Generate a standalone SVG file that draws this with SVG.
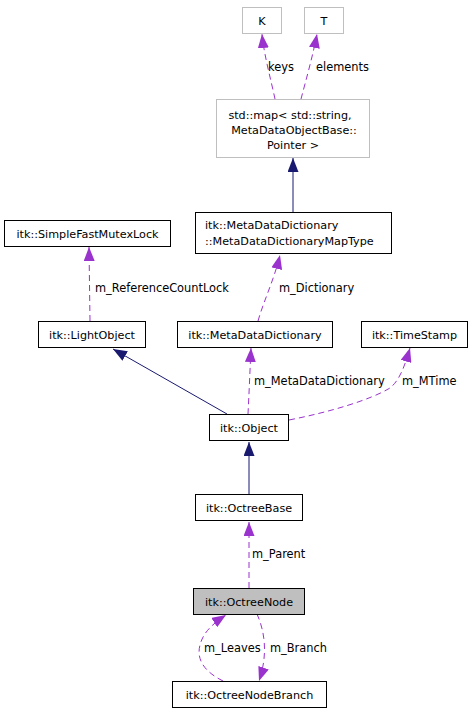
<svg xmlns="http://www.w3.org/2000/svg" width="473" height="715" viewBox="0 0 473 715">
<style>
text{font-family:"DejaVu Sans",sans-serif;font-size:11.2px;fill:#000}
.lbl{font-size:11.4px}
.c{text-anchor:middle}
.box{fill:#fff;stroke:#000;stroke-width:1}
.gbox{fill:#fff;stroke:#bfbfbf;stroke-width:1}
.cur{fill:#bfbfbf;stroke:#000;stroke-width:1}
.ref{fill:none;stroke:#9a32cd;stroke-width:1;stroke-dasharray:6,4;marker-end:url(#pa)}
.inh{fill:none;stroke:#191970;stroke-width:1;marker-end:url(#ba)}
</style>
<defs>
<marker id="pa" markerUnits="userSpaceOnUse" viewBox="0 0 14 11" refX="14" refY="5.5" markerWidth="14" markerHeight="11" orient="auto"><path d="M0,0 L14,5.5 L0,11 z" fill="#9a32cd"/></marker>
<marker id="ba" markerUnits="userSpaceOnUse" viewBox="0 0 14 11" refX="14" refY="5.5" markerWidth="14" markerHeight="11" orient="auto"><path d="M0,0 L14,5.5 L0,11 z" fill="#191970"/></marker>
</defs>
<g id="edges">
<path class="ref" d="M275,99 C271,80 264,55 262,34"/>
<text class="lbl" x="268" y="71">keys</text>
<path class="ref" d="M301,99 C306,80 313,55 317,34"/>
<text class="lbl" x="316" y="71">elements</text>
<path class="inh" d="M293,212 L293,158"/>
<path class="ref" d="M90,321 L89,247"/>
<text class="lbl" x="95" y="292">m_ReferenceCountLock</text>
<path class="ref" d="M258,321 C264,300 274,280 280,255"/>
<text class="lbl" x="279" y="292">m_Dictionary</text>
<path class="inh" d="M227,414 L113,349"/>
<path class="ref" d="M248,414 C249,395 250,370 251,348"/>
<text class="lbl" x="254" y="385">m_MetaDataDictionary</text>
<path class="ref" d="M289,420 C330,412 370,400 390,388 C400,380 405,365 410,348"/>
<text class="lbl" x="402" y="385">m_MTime</text>
<path class="inh" d="M249,494 L249,442"/>
<path class="ref" d="M249,588 L249,522"/>
<text class="lbl" x="252" y="558">m_Parent</text>
<path class="ref" d="M257,614 C265,632 268,655 259,681"/>
<text class="lbl" x="270" y="652">m_Branch</text>
<path class="ref" d="M223,681 C205,672 196,660 200,645 C203,633 212,624 226,615"/>
<text class="lbl" x="204" y="652">m_Leaves</text>
</g>
<g id="K"><rect class="gbox" x="242.5" y="7.5" width="39" height="26"/><text class="c" x="262" y="25">K</text></g>
<g id="T"><rect class="gbox" x="304.5" y="7.5" width="39" height="26"/><text class="c" x="324" y="25">T</text></g>
<g id="stdmap"><rect class="gbox" x="216.5" y="99.5" width="153" height="58"/>
<text class="c" x="290" y="119">std::map&lt; std::string,</text>
<text class="c" x="294" y="134">MetaDataObjectBase::</text>
<text class="c" x="293" y="149">Pointer &gt;</text></g>
<g id="MapType"><rect class="box" x="195.5" y="212.5" width="196" height="41"/>
<text x="205" y="229">itk::MetaDataDictionary</text>
<text x="205" y="245">::MetaDataDictionaryMapType</text></g>
<g id="SimpleFastMutexLock"><rect class="box" x="4.5" y="220.5" width="166" height="26"/><text class="c" x="87.5" y="238">itk::SimpleFastMutexLock</text></g>
<g id="LightObject"><rect class="box" x="38.5" y="321.5" width="107" height="26"/><text class="c" x="92" y="339">itk::LightObject</text></g>
<g id="MetaDataDictionary"><rect class="box" x="177.5" y="321.5" width="155" height="26"/><text class="c" x="255" y="339">itk::MetaDataDictionary</text></g>
<g id="TimeStamp"><rect class="box" x="361.5" y="321.5" width="106" height="26"/><text class="c" x="414.5" y="339">itk::TimeStamp</text></g>
<g id="Object"><rect class="box" x="209.5" y="414.5" width="79" height="26"/><text class="c" x="249" y="432">itk::Object</text></g>
<g id="OctreeBase"><rect class="box" x="195.5" y="494.5" width="107" height="26"/><text class="c" x="249" y="512">itk::OctreeBase</text></g>
<g id="OctreeNode"><rect class="cur" x="193.5" y="588.5" width="111" height="26"/><text class="c" x="249" y="606">itk::OctreeNode</text></g>
<g id="OctreeNodeBranch"><rect class="box" x="172.5" y="681.5" width="154" height="26"/><text class="c" x="249.5" y="699">itk::OctreeNodeBranch</text></g>
</svg>
